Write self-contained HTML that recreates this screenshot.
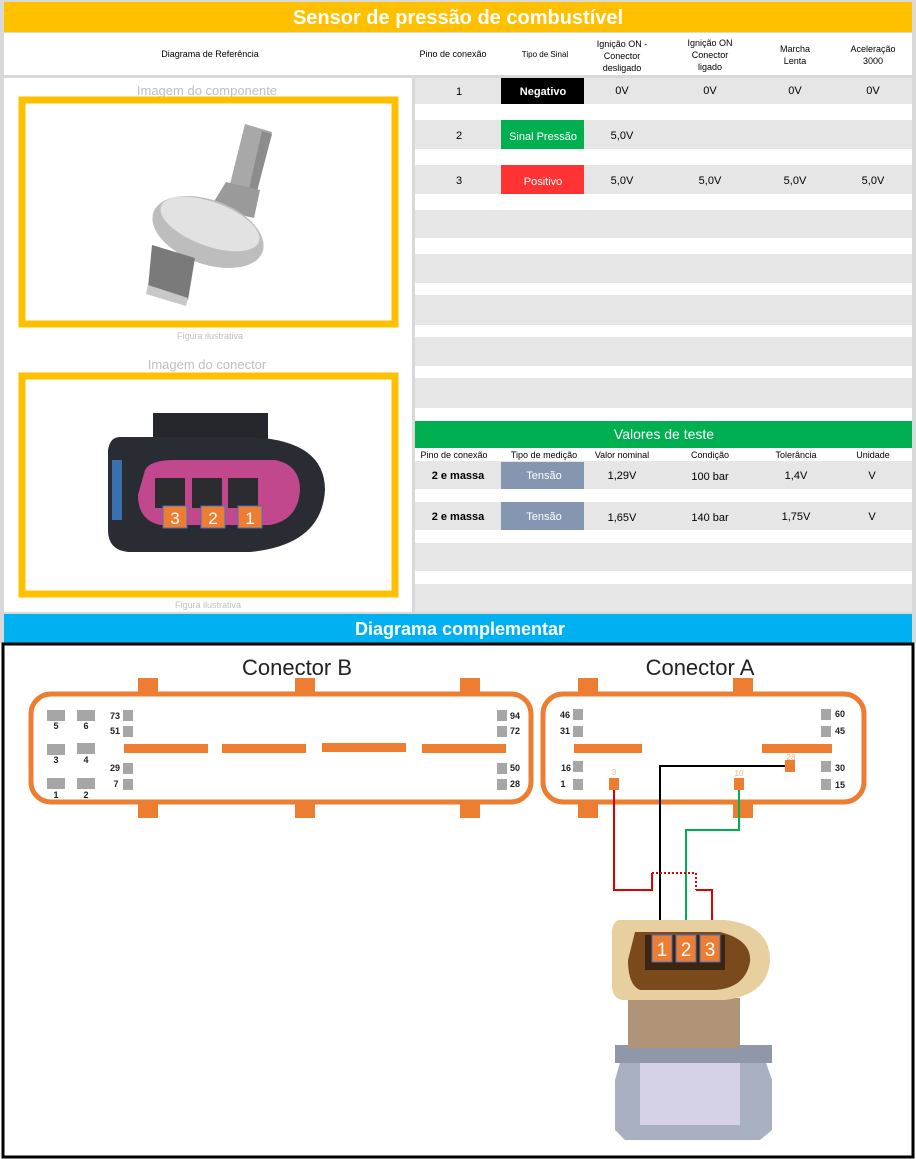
<!DOCTYPE html>
<html><head><meta charset="utf-8"><style>
html,body{margin:0;padding:0;background:#fff}
svg{display:block}
text{font-family:"Liberation Sans",sans-serif}
</style></head><body>
<svg width="916" height="1159" viewBox="0 0 916 1159" xmlns="http://www.w3.org/2000/svg">
<rect x="0" y="0" width="916" height="643" fill="#d9d9d9"/>
<rect x="4" y="2" width="908" height="30" fill="#ffc000"/>
<text x="458" y="24" text-anchor="middle" font-size="20" font-weight="bold" fill="#fff">Sensor de pressão de combustível</text>
<rect x="4" y="33" width="908" height="42" fill="#fff"/>
<g font-size="9" fill="#000" text-anchor="middle">
<text x="210" y="57">Diagrama de Referência</text>
<text x="453" y="57">Pino de conexão</text>
<text x="545" y="57" font-size="8">Tipo de Sinal</text>
<text x="622" y="47">Ignição ON -</text><text x="622" y="59">Conector</text><text x="622" y="71">desligado</text>
<text x="710" y="46">Ignição ON</text><text x="710" y="58">Conector</text><text x="710" y="70">ligado</text>
<text x="795" y="52">Marcha</text><text x="795" y="64">Lenta</text>
<text x="873" y="52">Aceleração</text><text x="873" y="64">3000</text>
</g>
<rect x="4" y="78" width="408" height="534" fill="#fff"/>
<text x="207" y="95" text-anchor="middle" font-size="13" fill="#bfbfbf">Imagem do componente</text>
<rect x="22" y="100" width="373" height="224" fill="#fff" stroke="#ffc000" stroke-width="7"/>
<text x="210" y="339" text-anchor="middle" font-size="9" fill="#bfbfbf">Figura ilustrativa</text>
<text x="207" y="369" text-anchor="middle" font-size="13" fill="#bfbfbf">Imagem do conector</text>
<rect x="22" y="376" width="373" height="218" fill="#fff" stroke="#ffc000" stroke-width="7"/>
<text x="208" y="608" text-anchor="middle" font-size="9" fill="#bfbfbf">Figura ilustrativa</text>
<!-- sensor drawing -->
<g>
<polygon points="245,124 272,132 256,195 229,188" fill="#a8a8a8"/>
<polygon points="262,131 272,134 256,195 248,193" fill="#8c8c8c"/>
<polygon points="226,182 260,190 254,218 210,208" fill="#9a9a9a"/>
<ellipse cx="208" cy="232" rx="58" ry="32" fill="#bdbdbd" transform="rotate(20 208 232)"/>
<ellipse cx="210" cy="224" rx="52" ry="22" fill="#e2e2e2" transform="rotate(20 210 224)"/>
<polygon points="152,245 195,258 188,300 148,288" fill="#7a7a7a"/>
<polygon points="148,285 188,298 186,306 146,294" fill="#c8c8c8"/>
</g>
<!-- connector photo -->
<g>
<rect x="153" y="413" width="115" height="40" fill="#25272c"/>
<path d="M120,437 L250,437 Q325,440 325,490 Q322,545 250,552 L128,552 Q108,550 108,530 L108,450 Q110,437 120,437Z" fill="#2a2c33"/>
<rect x="112" y="460" width="10" height="60" fill="#3a6fb0"/>
<path d="M145,470 Q150,460 175,460 L275,460 Q300,465 300,490 Q298,520 270,525 L160,525 Q138,520 138,495Z" fill="#c2488e"/>
<rect x="155" y="478" width="30" height="30" fill="#2b2b30"/><rect x="192" y="478" width="30" height="30" fill="#2b2b30"/><rect x="228" y="478" width="30" height="30" fill="#2b2b30"/>
</g>
<g font-size="17" fill="#fff" text-anchor="middle">
<rect x="163" y="506" width="24" height="22" fill="#ed7d31" stroke="#4472c4" stroke-width="1"/><text x="175" y="524">3</text>
<rect x="201" y="506" width="24" height="22" fill="#ed7d31" stroke="#4472c4" stroke-width="1"/><text x="213" y="524">2</text>
<rect x="238" y="506" width="24" height="22" fill="#ed7d31" stroke="#4472c4" stroke-width="1"/><text x="250" y="524">1</text>
</g>
<rect x="415" y="78" width="497" height="534" fill="#fff"/>
<g fill="#e6e6e6">
<rect x="415" y="78" width="497" height="26"/>
<rect x="415" y="120" width="497" height="29"/>
<rect x="415" y="165" width="497" height="29"/>
<rect x="415" y="210" width="497" height="28"/>
<rect x="415" y="254" width="497" height="29"/>
<rect x="415" y="295" width="497" height="30"/>
<rect x="415" y="337" width="497" height="29"/>
<rect x="415" y="378" width="497" height="30"/>
<rect x="415" y="461" width="497" height="28"/>
<rect x="415" y="502" width="497" height="28"/>
<rect x="415" y="543" width="497" height="28"/>
<rect x="415" y="584" width="497" height="28"/>
</g>
<rect x="501" y="78" width="83" height="26" fill="#000"/>
<rect x="501" y="120" width="83" height="29" fill="#00b050"/>
<rect x="501" y="165" width="83" height="29" fill="#ff3333"/>
<g font-size="11" fill="#000" text-anchor="middle">
<text x="459" y="95">1</text><text x="543" y="95" fill="#fff" font-weight="bold">Negativo</text>
<text x="622" y="94">0V</text><text x="710" y="94">0V</text><text x="795" y="94">0V</text><text x="873" y="94">0V</text>
<text x="459" y="139">2</text><text x="543" y="140" fill="#fff">Sinal Pressão</text><text x="622" y="139">5,0V</text>
<text x="459" y="184">3</text><text x="543" y="185" fill="#fff">Positivo</text>
<text x="622" y="184">5,0V</text><text x="710" y="184">5,0V</text><text x="795" y="184">5,0V</text><text x="873" y="184">5,0V</text>
</g>
<rect x="415" y="421" width="497" height="27" fill="#00b050"/>
<text x="664" y="439" text-anchor="middle" font-size="14" fill="#fff">Valores de teste</text>
<g font-size="9" fill="#000" text-anchor="middle">
<text x="454" y="458">Pino de conexão</text><text x="544" y="458">Tipo de medição</text><text x="622" y="458">Valor nominal</text>
<text x="710" y="458">Condição</text><text x="796" y="458">Tolerância</text><text x="873" y="458">Unidade</text>
</g>
<rect x="501" y="462" width="83" height="27" fill="#8496b0"/>
<rect x="501" y="502" width="83" height="28" fill="#8496b0"/>
<g font-size="11" fill="#000" text-anchor="middle">
<text x="458" y="479" font-weight="bold">2 e massa</text><text x="544" y="479" fill="#fff">Tensão</text>
<text x="622" y="479">1,29V</text><text x="710" y="480">100 bar</text><text x="796" y="479">1,4V</text><text x="872" y="479">V</text>
<text x="458" y="520" font-weight="bold">2 e massa</text><text x="544" y="520" fill="#fff">Tensão</text>
<text x="622" y="521">1,65V</text><text x="710" y="521">140 bar</text><text x="796" y="520">1,75V</text><text x="872" y="520">V</text>
</g>
<rect x="4" y="614" width="908" height="29" fill="#00b0f0"/>
<text x="460" y="635" text-anchor="middle" font-size="18" font-weight="bold" fill="#fff">Diagrama complementar</text>
<rect x="3" y="644" width="910" height="513" fill="#fff" stroke="#000" stroke-width="3"/>
<text x="297" y="675" text-anchor="middle" font-size="22" fill="#222">Conector B</text>
<text x="700" y="675" text-anchor="middle" font-size="22" fill="#222">Conector A</text>
<g fill="#ed7d31">
<rect x="138" y="678" width="20" height="16"/><rect x="295" y="678" width="20" height="16"/><rect x="460" y="678" width="20" height="16"/>
<rect x="138" y="802" width="20" height="16"/><rect x="295" y="802" width="20" height="16"/><rect x="460" y="802" width="20" height="16"/>
<rect x="578" y="678" width="20" height="16"/><rect x="733" y="678" width="20" height="16"/>
<rect x="578" y="802" width="20" height="16"/><rect x="733" y="802" width="20" height="16"/>
<rect x="124" y="744" width="84" height="9"/><rect x="222" y="744" width="84" height="9"/><rect x="322" y="743" width="84" height="9"/><rect x="422" y="744" width="84" height="9"/>
<rect x="574" y="744" width="68" height="9"/><rect x="762" y="744" width="70" height="9"/>
</g>
<rect x="31" y="694" width="500" height="108" rx="20" fill="none" stroke="#ed7d31" stroke-width="5"/>
<rect x="543" y="694" width="321" height="108" rx="20" fill="none" stroke="#ed7d31" stroke-width="5"/>
<g fill="#a6a6a6">
<rect x="47" y="710" width="18" height="11"/><rect x="77" y="710" width="18" height="11"/>
<rect x="47" y="744" width="18" height="11"/><rect x="77" y="743" width="18" height="11"/>
<rect x="47" y="778" width="18" height="11"/><rect x="77" y="778" width="18" height="11"/>
<rect x="123" y="710" width="10" height="11"/><rect x="123" y="726" width="10" height="11"/>
<rect x="123" y="763" width="10" height="11"/><rect x="123" y="779" width="10" height="11"/>
<rect x="497" y="710" width="10" height="11"/><rect x="497" y="726" width="10" height="11"/>
<rect x="497" y="763" width="10" height="11"/><rect x="497" y="779" width="10" height="11"/>
<rect x="573" y="709" width="10" height="11"/><rect x="573" y="726" width="10" height="11"/>
<rect x="573" y="761" width="10" height="11"/><rect x="573" y="779" width="10" height="11"/>
<rect x="821" y="709" width="10" height="11"/><rect x="821" y="726" width="10" height="11"/>
<rect x="821" y="761" width="10" height="11"/><rect x="821" y="779" width="10" height="11"/>
</g>
<g font-size="9" font-weight="bold" fill="#222" text-anchor="middle">
<text x="56" y="729">5</text><text x="86" y="729">6</text><text x="56" y="763">3</text><text x="86" y="763">4</text>
<text x="56" y="798">1</text><text x="86" y="798">2</text>
<text x="115" y="719">73</text><text x="115" y="734">51</text><text x="115" y="771">29</text><text x="116" y="787">7</text>
<text x="515" y="719">94</text><text x="515" y="734">72</text><text x="515" y="771">50</text><text x="515" y="787">28</text>
<text x="565" y="718">46</text><text x="565" y="734">31</text><text x="566" y="771">16</text><text x="563" y="787">1</text>
<text x="840" y="717">60</text><text x="840" y="734">45</text><text x="840" y="771">30</text><text x="840" y="788">15</text>
</g>
<g fill="#ed7d31">
<rect x="609" y="778" width="10" height="12"/><rect x="734" y="778" width="10" height="12"/><rect x="785" y="760" width="10" height="12"/>
</g>
<g font-size="8" fill="#f4b183" text-anchor="middle"><text x="614" y="775">3</text><text x="739" y="776">10</text><text x="791" y="760">28</text></g>
<g fill="none" stroke-width="2">
<polyline points="785,766 660,766 660,935" stroke="#000"/>
<polyline points="739,790 739,830 686,830 686,935" stroke="#00b050"/>
<polyline points="614,790 614,890 652,890 652,873" stroke="#e00000"/>
<polyline points="652,873 696,873 696,890" stroke="#e00000" stroke-dasharray="2,2"/>
<polyline points="696,890 712,890 712,935" stroke="#e00000"/>
</g>
<path d="M625,1045 L760,1045 L772,1080 L772,1130 L760,1140 L625,1140 L615,1130 L615,1080Z" fill="#a8b0c2"/>
<rect x="640" y="1060" width="100" height="65" fill="#d6d2e6"/>
<rect x="615" y="1045" width="157" height="18" fill="#8f97a8"/>
<rect x="628" y="998" width="112" height="50" fill="#b09478"/>
<path d="M620,920 L725,920 Q770,925 770,960 Q768,995 725,1000 L622,1000 Q612,998 612,985 L612,930 Q614,920 620,920Z" fill="#e8cfa0"/>
<path d="M635,932 L720,932 Q752,940 750,962 Q745,988 715,990 L640,990 Q628,985 628,960Z" fill="#7a4a1c"/>
<rect x="645" y="935" width="80" height="35" fill="#3b2410"/>
<g font-size="19" fill="#fff" text-anchor="middle">
<rect x="652" y="935" width="20" height="27" fill="#ed7d31" stroke="#4472c4"/><text x="662" y="956">1</text>
<rect x="676" y="935" width="20" height="27" fill="#ed7d31" stroke="#4472c4"/><text x="686" y="956">2</text>
<rect x="700" y="935" width="20" height="27" fill="#ed7d31" stroke="#4472c4"/><text x="710" y="956">3</text>
</g>
</svg>
</body></html>
